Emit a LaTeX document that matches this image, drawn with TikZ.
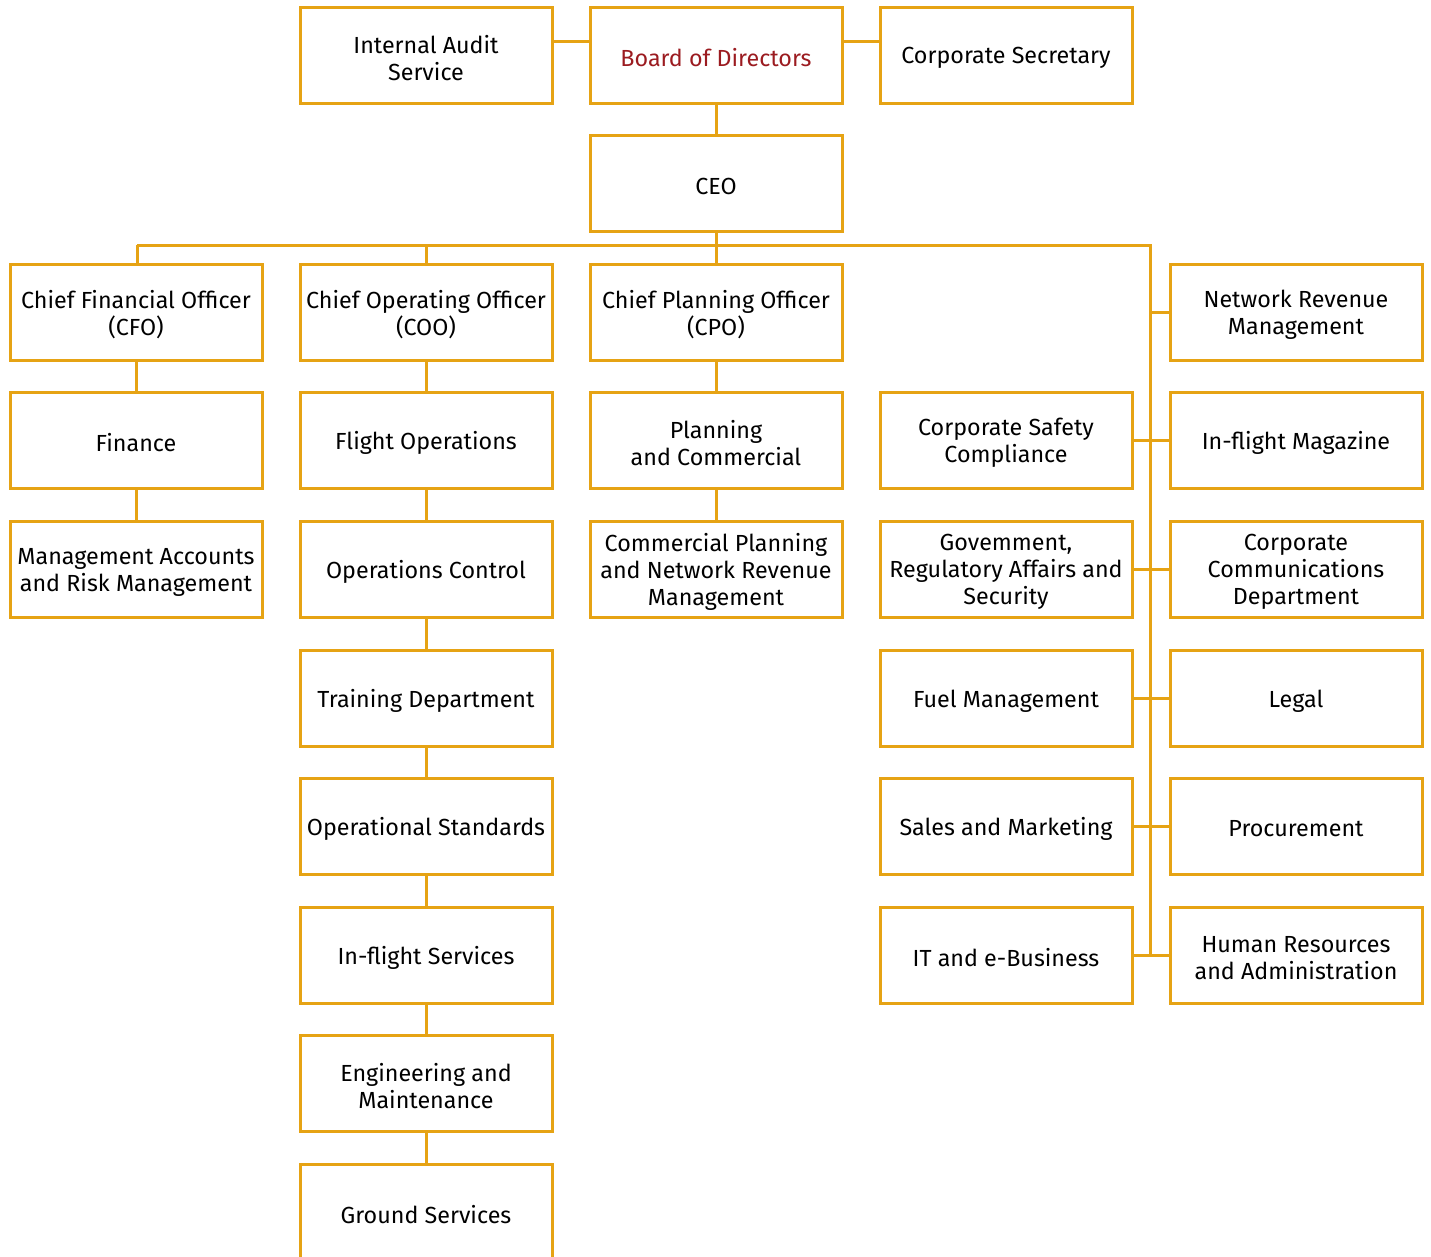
\documentclass[tikz,border=0pt]{standalone}
\usepackage{fontspec}
\setmainfont{Fira Sans}
\definecolor{org}{RGB}{230,163,20}
\definecolor{brd}{RGB}{155,27,32}
\tikzset{
  box/.style={draw=org, line width=3pt, minimum width=252pt, minimum height=96pt,
    inner sep=0pt},
  lb/.style={yshift=-3pt, align=center, text=black,
    font=\fontsize{23.3}{27}\selectfont},
  conn/.style={draw=org, line width=3pt},
}
\begin{document}
\begin{tikzpicture}[x=1pt,y=-1pt]
\useasboundingbox (0,0) rectangle (1431,1256);
\clip (0,0) rectangle (1431,1256);
% row 1
\node[box, label={[lb]center:Internal Audit\\Service}] (ias) at (426,55) {};
\node[box, label={[lb, text=brd]center:Board of Directors}] (bod) at (716,55) {};
\node[box, label={[lb]center:Corporate Secretary}] (cs) at (1006,55) {};
\node[box, label={[lb]center:CEO}] (ceo) at (716,183) {};
% row 3
\node[box, label={[lb]center:Chief Financial Officer\\(CFO)}] (cfo) at (136,312) {};
\node[box, label={[lb]center:Chief Operating Officer\\(COO)}] (coo) at (426,312) {};
\node[box, label={[lb]center:Chief Planning Officer\\(CPO)}] (cpo) at (716,312) {};
\node[box, label={[lb]center:Network Revenue\\Management}] (nrm) at (1296,312) {};
% row 4
\node[box, label={[lb]center:Finance}] (fin) at (136,440) {};
\node[box, label={[lb]center:Flight Operations}] (fo) at (426,440) {};
\node[box, label={[lb]center:Planning\\and Commercial}] (pc) at (716,440) {};
\node[box, label={[lb]center:Corporate Safety\\Compliance}] (csc) at (1006,440) {};
\node[box, label={[lb]center:In-flight Magazine}] (ifm) at (1296,440) {};
% row 5
\node[box, label={[lb]center:Management Accounts\\and Risk Management}] (mar) at (136,569) {};
\node[box, label={[lb]center:Operations Control}] (oc) at (426,569) {};
\node[box, label={[lb]center:Commercial Planning\\and Network Revenue\\Management}] (cpn) at (716,569) {};
\node[box, label={[lb]center:Govemment,\\Regulatory Affairs and\\Security}] (gra) at (1006,569) {};
\node[box, label={[lb]center:Corporate\\Communications\\Department}] (ccd) at (1296,569) {};
% row 6
\node[box, label={[lb]center:Training Department}] (td) at (426,698) {};
\node[box, label={[lb]center:Fuel Management}] (fm) at (1006,698) {};
\node[box, label={[lb]center:Legal}] (leg) at (1296,698) {};
% row 7
\node[box, label={[lb]center:Operational Standards}] (os) at (426,826) {};
\node[box, label={[lb]center:Sales and Marketing}] (sm) at (1006,826) {};
\node[box, label={[lb]center:Procurement}] (pro) at (1296,826) {};
% row 8
\node[box, label={[lb]center:In-flight Services}] (ifs) at (426,955) {};
\node[box, label={[lb]center:IT and e-Business}] (it) at (1006,955) {};
\node[box, label={[lb]center:Human Resources\\and Administration}] (hr) at (1296,955) {};
% row 9, 10
\node[box, label={[lb]center:Engineering and\\Maintenance}] (em) at (426,1083) {};
\node[box, label={[lb]center:Ground Services}] (gs) at (426,1212) {};

% top connectors
\coordinate (topy) at (0,41);
\draw[conn] (ias.east |- topy) -- (bod.west |- topy);
\draw[conn] (bod.east |- topy) -- (cs.west |- topy);
\draw[conn] (bod) -- (ceo);
% bus
\coordinate (busL) at (137,245);
\coordinate (busR) at (1150,245);
\draw[conn] (ceo.south) -- (ceo.south |- busL);
\draw[conn] (busL) -- (busR) -- (busR |- hr.west);
\draw[conn] (busL) -- (busL |- cfo.north);
\draw[conn] (coo.north) -- (coo.north |- busL);
\draw[conn] (cpo.north) -- (cpo.north |- busL);
% columns
\draw[conn] (cfo) -- (fin); \draw[conn] (fin) -- (mar);
\draw[conn] (coo) -- (fo); \draw[conn] (fo) -- (oc); \draw[conn] (oc) -- (td);
\draw[conn] (td) -- (os); \draw[conn] (os) -- (ifs); \draw[conn] (ifs) -- (em);
\draw[conn] (em) -- (gs);
\draw[conn] (cpo) -- (pc); \draw[conn] (pc) -- (cpn);
% trunk branches
\draw[conn] (busR |- nrm.west) -- (nrm.west);
\draw[conn] (csc) -- (ifm);
\draw[conn] (gra) -- (ccd);
\draw[conn] (fm) -- (leg);
\draw[conn] (sm) -- (pro);
\draw[conn] (it) -- (hr);
\end{tikzpicture}
\end{document}
